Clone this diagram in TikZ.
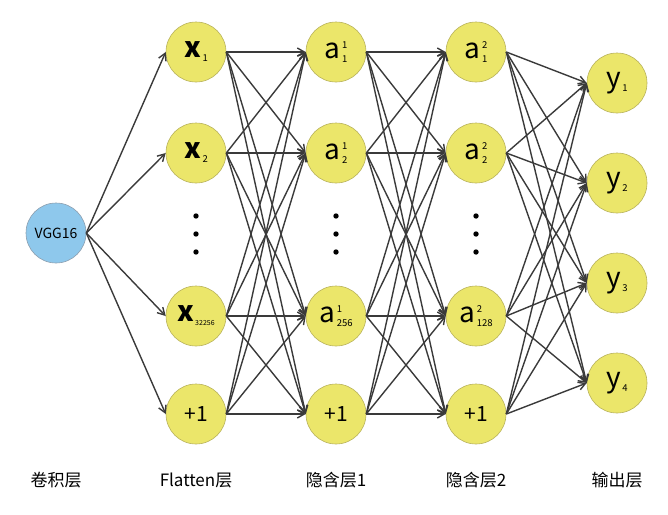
\documentclass[tikz,border=0pt]{standalone}
\usepackage{fontspec}
\setmainfont{Noto Sans CJK SC}
\usetikzlibrary{arrows.meta}

\definecolor{neuron}{HTML}{EBE66A}
\definecolor{neuronrim}{HTML}{B8B25C}
\definecolor{vggfill}{HTML}{8EC8EC}
\definecolor{vggrim}{HTML}{8C9EAE}
\definecolor{linkgray}{HTML}{3A3A3A}

% unit label: letter with upper and lower index
\newcommand{\unitlbl}[3]{#1\makebox[0pt][l]{\raisebox{10pt}{\fontsize{9.5}{9.5}\selectfont\,#2}}\raisebox{-4pt}{\fontsize{9.5}{9.5}\selectfont\,#3}}
\newcommand{\sublbl}[3]{#1\raisebox{-4pt}{\fontsize{#3}{#3}\selectfont\,#2}}

\begin{document}
\begin{tikzpicture}[
  x=1pt, y=-1pt,
  unit/.style={
    circle,
    draw=neuronrim,
    fill=neuron,
    line width=0.6pt,
    minimum size=60pt,
    inner sep=0pt,
    font=\fontsize{28}{28}\selectfont
  },
  bias/.style={
    unit,
    font=\fontsize{21}{21}\selectfont
  },
  vgg/.style={
    unit,
    draw=vggrim,
    fill=vggfill,
    font=\fontsize{14}{14}\selectfont
  },
  link/.style={
    -{Straight Barb[length=7pt,width=8pt]},
    draw=linkgray,
    line width=1.4pt
  },
  lbl/.style={
    font=\fontsize{17}{17}\selectfont
  }
]

\useasboundingbox (0,0) rectangle (668,514);

% input
\node[vgg] (vgg) at (56,233) {VGG16};

% flatten layer
\node[unit] (x1) at (196,52) {\sublbl{{\bfseries x}}{1}{9.5}};
\node[unit] (x2) at (196,153) {\sublbl{{\bfseries x}}{2}{9.5}};
\node[unit] (xn) at (196,316) {\sublbl{{\bfseries x}}{32256}{7}};
\node[bias] (xb) at (196,414) {+1};

% hidden layer 1
\node[unit] (ha1) at (336,52) {\unitlbl{a}{1}{1}};
\node[unit] (ha2) at (336,153) {\unitlbl{a}{1}{2}};
\node[unit] (han) at (336,316) {\unitlbl{a}{1}{256}};
\node[bias] (hab) at (336,414) {+1};

% hidden layer 2
\node[unit] (hb1) at (476,52) {\unitlbl{a}{2}{1}};
\node[unit] (hb2) at (476,153) {\unitlbl{a}{2}{2}};
\node[unit] (hbn) at (476,316) {\unitlbl{a}{2}{128}};
\node[bias] (hbb) at (476,414) {+1};

% output layer
\node[unit] (y1) at (617,83) {\sublbl{y}{1}{9.5}};
\node[unit] (y2) at (617,183) {\sublbl{y}{2}{9.5}};
\node[unit] (y3) at (617,283) {\sublbl{y}{3}{9.5}};
\node[unit] (y4) at (617,383) {\sublbl{y}{4}{9.5}};

% vertical dots
\foreach \cx in {196,336,476}
  \foreach \cy in {216,234,252}
    \fill (\cx,\cy) circle (2.7);

% connections
\foreach \t in {x1,x2,xn,xb}
  \draw[link] (vgg.east) -- (\t.west);
\foreach \s in {x1,x2,xn,xb}
  \foreach \t in {ha1,ha2,han,hab}
    \draw[link] (\s.east) -- (\t.west);
\foreach \s in {ha1,ha2,han,hab}
  \foreach \t in {hb1,hb2,hbn,hbb}
    \draw[link] (\s.east) -- (\t.west);
\foreach \s in {hb1,hb2,hbn,hbb}
  \foreach \t in {y1,y2,y3,y4}
    \draw[link] (\s.east) -- (\t.west);

% layer names
\node[lbl] (lconv) at (56,480) {卷积层};
\node[lbl] (lflat) at (196,480) {Flatten层};
\node[lbl] (lhida) at (336,480) {隐含层1};
\node[lbl] (lhidb) at (476,480) {隐含层2};
\node[lbl] (lout) at (617,480) {输出层};

\end{tikzpicture}
\end{document}
